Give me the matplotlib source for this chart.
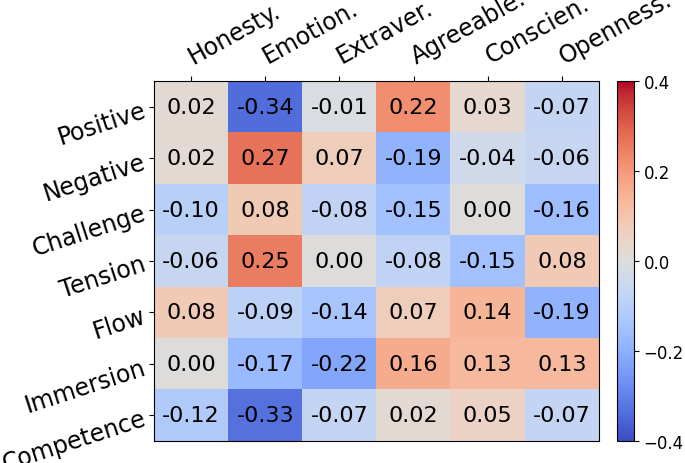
import matplotlib
matplotlib.use("Agg")
import matplotlib.pyplot as plt
import matplotlib.transforms as mtransforms
import numpy as np

cols = ["Honesty.", "Emotion.", "Extraver.", "Agreeable.", "Conscien.", "Openness."]
rows = ["Positive", "Negative", "Challenge", "Tension", "Flow", "Immersion", "Competence"]
values = [
    [0.02, -0.34, -0.01, 0.22, 0.03, -0.07],
    [0.02, 0.27, 0.07, -0.19, -0.04, -0.06],
    [-0.10, 0.08, -0.08, -0.15, 0.00, -0.16],
    [-0.06, 0.25, 0.00, -0.08, -0.15, 0.08],
    [0.08, -0.09, -0.14, 0.07, 0.14, -0.19],
    [0.00, -0.17, -0.22, 0.16, 0.13, 0.13],
    [-0.12, -0.33, -0.07, 0.02, 0.05, -0.07],
]
cbar_ticks = [-0.4, -0.2, 0.0, 0.2, 0.4]

data = np.array(values)
fig = plt.figure(figsize=(6.85, 4.64), dpi=100)
W, H = 685, 464
ax = fig.add_axes([154 / W, 1 - 442 / H, 445 / W, 360 / H])
cax = fig.add_axes([617 / W, 1 - 442 / H, 17 / W, 360 / H])

im = ax.imshow(data, cmap="coolwarm", vmin=-0.4, vmax=0.4, aspect="auto")
for i in range(data.shape[0]):
    for j in range(data.shape[1]):
        ax.text(j, i, f"{data[i, j]:.2f}", ha="center", va="center", fontsize=16, color="black")

ax.set_xticks(range(len(cols)))
ax.set_yticks(range(len(rows)))
ax.xaxis.tick_top()
ax.tick_params(axis="x", pad=6)
ax.set_xticklabels(cols, rotation=29, ha="left", rotation_mode="anchor", fontsize=17)
ax.set_yticklabels(rows, rotation=18, ha="right", rotation_mode="anchor", fontsize=17)

offset = mtransforms.ScaledTranslation(0.05, 0, fig.dpi_scale_trans)
for lbl in ax.get_xticklabels():
    lbl.set_transform(lbl.get_transform() + offset)

cb = fig.colorbar(im, cax=cax, ticks=cbar_ticks)
cb.ax.tick_params(labelsize=12)

fig.savefig("out.png", dpi=100)
